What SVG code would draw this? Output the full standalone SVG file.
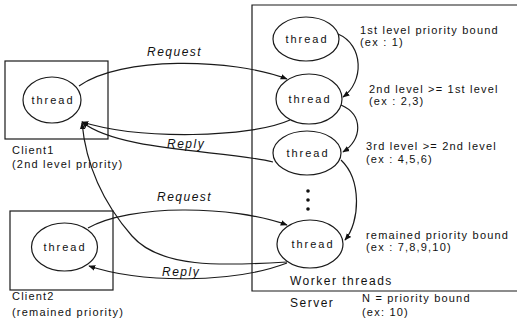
<svg xmlns="http://www.w3.org/2000/svg" width="517" height="323" viewBox="0 0 517 323">
  <style>
    .box { fill: none; stroke: #1a1a1a; stroke-width: 1.2; }
    .node { fill: #fff; stroke: #1a1a1a; stroke-width: 1.2; }
    .edge { fill: none; stroke: #1a1a1a; stroke-width: 1.2; }
    text { font-family: "Liberation Sans", Arial, sans-serif; fill: #111; }
    .lbl { font-size: 11px; letter-spacing: 1.2px; }
    .th { font-size: 11px; letter-spacing: 2px; text-anchor: middle; }
    .msg { font-size: 12px; font-style: italic; letter-spacing: 1.5px; }
    .big { font-size: 12px; letter-spacing: 1.5px; }
  </style>
  <defs>
    <marker id="arr" viewBox="0 0 10 10" refX="9" refY="5" markerWidth="7" markerHeight="7" markerUnits="userSpaceOnUse" orient="auto">
      <path d="M0,1 L10,5 L0,9 Z" fill="#111"/>
    </marker>
  </defs>

  <!-- server frame (right side runs past the canvas) -->
  <g id="server">
    <path class="box" d="M520,5 H252 V291 H520"/>
    <text class="big" x="290" y="285">Worker threads</text>
    <text class="big" x="290" y="307">Server</text>
    <text class="lbl" x="362" y="302">N = priority bound</text>
    <text class="lbl" x="362" y="316">(ex: 10)</text>
  </g>

  <!-- clients -->
  <g id="client1">
    <rect class="box" x="5" y="61" width="103" height="78"/>
    <ellipse class="node" cx="52" cy="100" rx="29" ry="23"/>
    <text class="th" x="53" y="104">thread</text>
    <text class="lbl" x="12" y="154">Client1</text>
    <text class="lbl" x="12" y="168">(2nd level priority)</text>
  </g>
  <g id="client2">
    <rect class="box" x="10" y="211" width="103" height="79"/>
    <ellipse class="node" cx="64.5" cy="247" rx="33" ry="24"/>
    <text class="th" x="65" y="251">thread</text>
    <text class="lbl" x="12" y="300">Client2</text>
    <text class="lbl" x="12" y="316">(remained priority)</text>
  </g>

  <!-- worker threads -->
  <g id="worker1">
    <ellipse class="node" cx="306" cy="39" rx="33" ry="22"/>
    <text class="th" x="307" y="43">thread</text>
    <text class="lbl" x="360" y="34">1st level priority bound</text>
    <text class="lbl" x="360" y="46">(ex : 1)</text>
  </g>
  <g id="worker2">
    <ellipse class="node" cx="309" cy="99" rx="33" ry="25"/>
    <text class="th" x="310" y="103">thread</text>
    <text class="lbl" x="369" y="93">2nd level &gt;= 1st level</text>
    <text class="lbl" x="369" y="105">(ex : 2,3)</text>
  </g>
  <g id="worker3">
    <ellipse class="node" cx="307" cy="153" rx="34" ry="22"/>
    <text class="th" x="308" y="157">thread</text>
    <text class="lbl" x="366" y="150">3rd level &gt;= 2nd level</text>
    <text class="lbl" x="366" y="163">(ex : 4,5,6)</text>
  </g>
  <g id="ellipsis">
    <circle cx="308" cy="191" r="1.8" fill="#111"/>
    <circle cx="308" cy="200" r="1.8" fill="#111"/>
    <circle cx="308" cy="209" r="1.8" fill="#111"/>
  </g>
  <g id="worker4">
    <ellipse class="node" cx="310" cy="244" rx="33" ry="24"/>
    <text class="th" x="313" y="248">thread</text>
    <text class="lbl" x="366" y="239">remained priority bound</text>
    <text class="lbl" x="366" y="251">(ex : 7,8,9,10)</text>
  </g>

  <!-- connectors -->
  <g id="connectors">
    <!-- priority chain between worker threads -->
    <path class="edge" marker-end="url(#arr)" d="M338,34 C364,45 364,82 343,97"/>
    <path class="edge" marker-end="url(#arr)" d="M341,105 C364,115 362,140 343,152"/>
    <path class="edge" marker-end="url(#arr)" d="M341,160 C362,180 360,222 345,240"/>

    <!-- client1 request / replies -->
    <path class="edge" marker-end="url(#arr)" d="M79,86 C120,56 232,58 287,79"/>
    <path class="edge" marker-end="url(#arr)" d="M290,120 C250,138 140,140 82,122"/>
    <path class="edge" marker-end="url(#arr)" d="M273,162 C225,150 120,152 82,122"/>
    <path class="edge" marker-end="url(#arr)" d="M287,262 C220,266 160,268 132,236 C104,204 86,165 82,123"/>

    <!-- client2 request / reply -->
    <path class="edge" marker-end="url(#arr)" d="M88,228 C130,204 232,205 287,225"/>
    <path class="edge" marker-end="url(#arr)" d="M287,263 C232,284 140,283 89,266"/>

    <text class="msg" x="147" y="56">Request</text>
    <text class="msg" x="167" y="148">Reply</text>
    <text class="msg" x="157" y="201">Request</text>
    <text class="msg" x="162" y="276">Reply</text>
  </g>
</svg>
